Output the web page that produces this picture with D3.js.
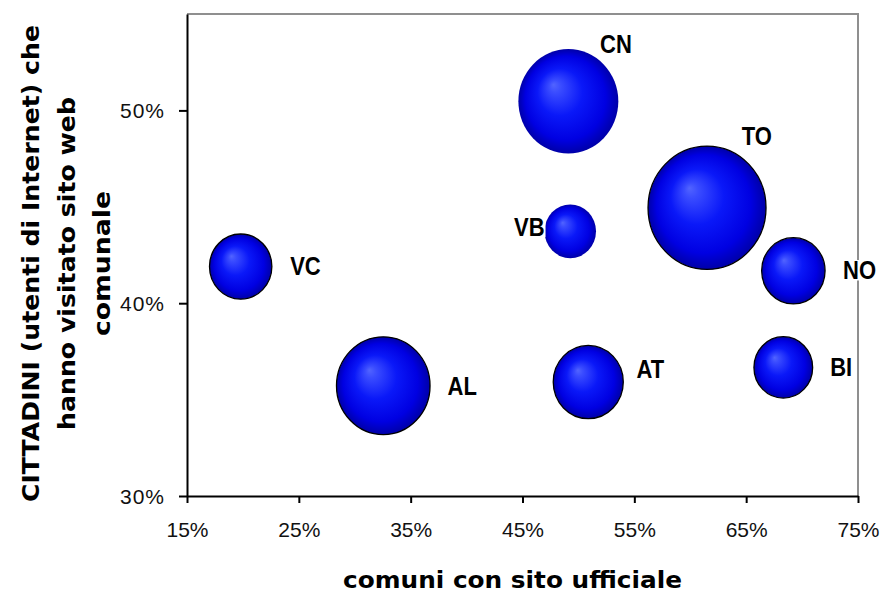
<!DOCTYPE html>
<html><head><meta charset="utf-8">
<script src="https://cdn.jsdelivr.net/npm/d3@7"></script>
<style>body{margin:0;background:#fff}svg{display:block}</style>
</head><body>
<svg id="chart" width="894" height="596"></svg>
<script>
// ---- data ----
const provinces = ["VC", "AL", "VB", "TO", "CN", "NO", "AT", "BI"];
const comuniConSito = [0.198, 0.3255, 0.4927, 0.615, 0.491, 0.6922, 0.5088, 0.6832];
const cittadiniVisitato = [0.419, 0.3572, 0.4373, 0.4495, 0.5047, 0.4168, 0.3591, 0.3667];
const bubbleSize = [88, 198, 60, 315, 226, 91, 111, 78];
const xTicks = [0.15, 0.25, 0.35, 0.45, 0.55, 0.65, 0.75];
const yTicks = [0.30, 0.40, 0.50];
const xTitle = "comuni con sito ufficiale";
const yTitleLines = ["CITTADINI (utenti di Internet) che", "hanno visitato sito web", "comunale"];

// ---- layout ----
const svg = d3.select("#chart");
const L = 187, R = 858, T = 14, B = 496;
const x = d3.scaleLinear().domain([0.15, 0.75]).range([L, R]);
const y = d3.scaleLinear().domain([0.30, 0.55]).range([B, T]);
const r = d3.scaleSqrt().domain([0, d3.max(bubbleSize)]).range([0, 59]);
const stretchY = 1.045;

const data = provinces.map((p, i) => ({name: p, x: comuniConSito[i], y: cittadiniVisitato[i], s: bubbleSize[i]}));

const defs = svg.append("defs");
const g = defs.append("radialGradient").attr("id", "sphere")
  .attr("cx", "50%").attr("cy", "50%").attr("r", "50%").attr("fx", "35%").attr("fy", "34%");
[[0, "#5264ff"], [0.12, "#3a4cff"], [0.45, "#0a18f8"], [0.8, "#0000e2"], [1, "#0000a8"]]
  .forEach(([o, c]) => g.append("stop").attr("offset", o).attr("stop-color", c));

// frame (top/right)
svg.append("path").attr("d", `M${L},${T}H${R}V${B}`).attr("fill", "none")
  .attr("stroke", "#8f8f8f").attr("stroke-width", 2);

// axes
const fmt = d3.format(".0%");
const xAxis = svg.append("g").attr("transform", `translate(0,${B})`)
  .call(d3.axisBottom(x).tickValues(xTicks).tickFormat(fmt).tickSize(7).tickSizeOuter(0));
const yAxis = svg.append("g").attr("transform", `translate(${L},0)`)
  .call(d3.axisLeft(y).tickValues(yTicks).tickFormat(fmt).tickSize(8).tickSizeOuter(0));
[xAxis, yAxis].forEach(a => {
  a.select(".domain").attr("stroke", "#000").attr("stroke-width", 2);
  a.selectAll(".tick line").attr("stroke", "#000").attr("stroke-width", 2);
  a.selectAll(".tick text").attr("fill", "#111")
    .style("font-family", "'Liberation Sans', Arial, sans-serif").style("font-size", "21px");
});
xAxis.selectAll(".tick text").attr("y", 41).attr("dy", 0);
yAxis.selectAll(".tick text").attr("x", -22).attr("dy", 7.5).style("letter-spacing", "1px");

// bubbles
const noOutline = new Set(["CN", "VB"]);
svg.append("g").selectAll("ellipse").data(data).join("ellipse")
  .attr("cx", d => x(d.x)).attr("cy", d => y(d.y))
  .attr("rx", d => r(d.s)).attr("ry", d => r(d.s) * stretchY)
  .attr("fill", "url(#sphere)")
  .attr("stroke", d => noOutline.has(d.name) ? "none" : "#000")
  .attr("stroke-width", 1.3);

// labels
const labelOffset = {CN: [47.6, -48], TO: [49.7, -62.8], VB: [-41, 4.8], VC: [64.8, 8.3],
  NO: [66.2, 8.5], AL: [79, 9.2], AT: [62.2, -3.7], BI: [57.9, 8.2]};
const lab = svg.append("g").selectAll("g").data(data).join("g")
  .attr("transform", d => `translate(${x(d.x) + labelOffset[d.name][0]},${y(d.y) + labelOffset[d.name][1]}) scale(1,1.17)`);
lab.append("rect").attr("fill", "#fff");
lab.append("text").text(d => d.name).attr("text-anchor", "middle")
  .style("font-family", "'Liberation Sans', Arial, sans-serif").style("font-weight", "bold")
  .style("font-size", "22px").attr("fill", "#000");
lab.each(function() {
  const t = d3.select(this).select("text").node().getBBox();
  d3.select(this).select("rect").attr("x", t.x - 1).attr("y", -16.5).attr("width", t.width + 2).attr("height", 17.5);
});

// titles
svg.append("text").text(xTitle).attr("x", 512.5).attr("y", 588).attr("text-anchor", "middle")
  .attr("textLength", 339).attr("lengthAdjust", "spacingAndGlyphs")
  .style("font-family", "'DejaVu Sans', sans-serif").style("font-weight", "bold").style("font-size", "23.5px");

const yLens = [477, 333, 145];
const yBase = [38.5, 74.5, 110];
yTitleLines.forEach((line, i) => {
  svg.append("text").text(line)
    .attr("transform", `translate(${yBase[i]},263.5) rotate(-90)`)
    .attr("text-anchor", "middle")
    .attr("textLength", yLens[i]).attr("lengthAdjust", "spacingAndGlyphs")
    .style("font-family", "'DejaVu Sans', sans-serif").style("font-weight", "bold").style("font-size", "23px");
});
</script>
</body></html>
